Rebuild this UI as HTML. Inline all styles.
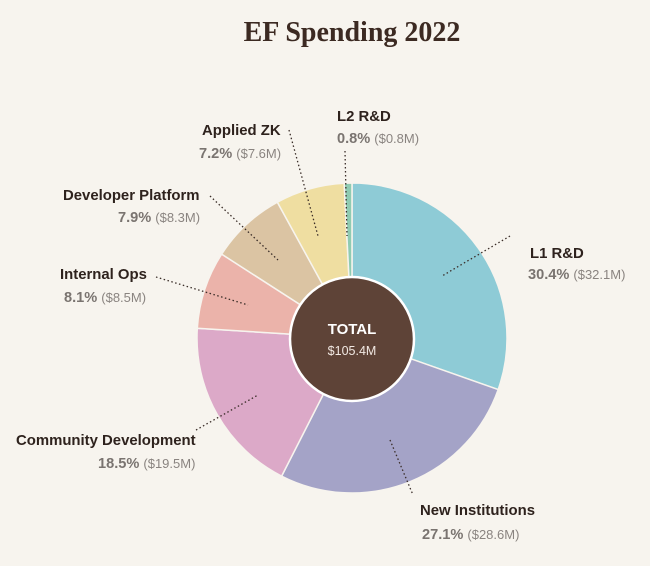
<!DOCTYPE html>
<html><head><meta charset="utf-8"><style>
html,body{margin:0;padding:0;background:#f7f4ee;}
svg{display:block}
.n{font-family:"Liberation Sans",sans-serif;font-weight:bold;font-size:14.9px;fill:#2e221d}
.p{font-family:"Liberation Sans",sans-serif;font-weight:bold;font-size:14.6px;fill:#7a7470}
.v{font-family:"Liberation Sans",sans-serif;font-weight:normal;font-size:13px;fill:#8a8480}
.l{stroke:#3a2d28;stroke-width:1.3;stroke-dasharray:1.5 2.5;fill:none}
</style></head><body>
<svg id="s" width="650" height="566" viewBox="0 0 650 566" xmlns="http://www.w3.org/2000/svg">
<rect width="650" height="566" fill="#f7f4ee"/>
<text x="352" y="41" text-anchor="middle" font-family="Liberation Serif,serif" font-weight="bold" font-size="28" fill="#3c2a22">EF Spending 2022</text>
<g id="pie"></g>
<circle cx="352" cy="339" r="62" fill="#5e4337" stroke="#fff" stroke-width="2.5"/>
<text x="352" y="334" text-anchor="middle" font-family="Liberation Sans,sans-serif" font-weight="bold" font-size="15" fill="#fff">TOTAL</text>
<text x="352" y="355" text-anchor="middle" font-family="Liberation Sans,sans-serif" font-size="12.5" fill="#f1e8e2">$105.4M</text>
<path class="l" d="M345 151 L347 236"/>
<path class="l" d="M289 130 L318 236"/>
<path class="l" d="M210 196 L278 260"/>
<path class="l" d="M156 277 L248 305"/>
<path class="l" d="M196 430 L258 395"/>
<path class="l" d="M510 236 L442 276"/>
<path class="l" d="M390 440 L413 495"/>
<text class="n" x="337" y="121">L2 R&amp;D</text>
<text x="337" y="143"><tspan class="p">0.8%</tspan> <tspan class="v">($0.8M)</tspan></text>
<text class="n" x="202" y="135">Applied ZK</text>
<text x="199" y="158"><tspan class="p">7.2%</tspan> <tspan class="v">($7.6M)</tspan></text>
<text class="n" x="63" y="200">Developer Platform</text>
<text x="118" y="222"><tspan class="p">7.9%</tspan> <tspan class="v">($8.3M)</tspan></text>
<text class="n" x="60" y="279">Internal Ops</text>
<text x="64" y="302"><tspan class="p">8.1%</tspan> <tspan class="v">($8.5M)</tspan></text>
<text class="n" x="16" y="445">Community Development</text>
<text x="98" y="468"><tspan class="p">18.5%</tspan> <tspan class="v">($19.5M)</tspan></text>
<text class="n" x="530" y="258">L1 R&amp;D</text>
<text x="528" y="279"><tspan class="p">30.4%</tspan> <tspan class="v">($32.1M)</tspan></text>
<text class="n" x="420" y="515">New Institutions</text>
<text x="422" y="539"><tspan class="p">27.1%</tspan> <tspan class="v">($28.6M)</tspan></text>
</svg>
<script>
var d=[[30.4,"#8ecbd6"],[27.1,"#a4a3c7"],[18.5,"#dca9c8"],[8.1,"#ebb3aa"],[7.9,"#dbc4a3"],[7.2,"#efdea1"],[0.8,"#8fcbb2"]];
var cx=352,cy=338,r=155,a=0,g=document.getElementById("pie"),h="";
d.forEach(function(s){var b=a+s[0]*3.6,ra=a*Math.PI/180,rb=b*Math.PI/180;
var x1=cx+r*Math.sin(ra),y1=cy-r*Math.cos(ra),x2=cx+r*Math.sin(rb),y2=cy-r*Math.cos(rb);
h+='<path d="M'+cx+' '+cy+' L'+x1+' '+y1+' A'+r+' '+r+' 0 '+((b-a)>180?1:0)+' 1 '+x2+' '+y2+' Z" fill="'+s[1]+'" stroke="#f7f4ee" stroke-width="1.5"/>';a=b;});
g.innerHTML=h;
</script>
</body></html>
